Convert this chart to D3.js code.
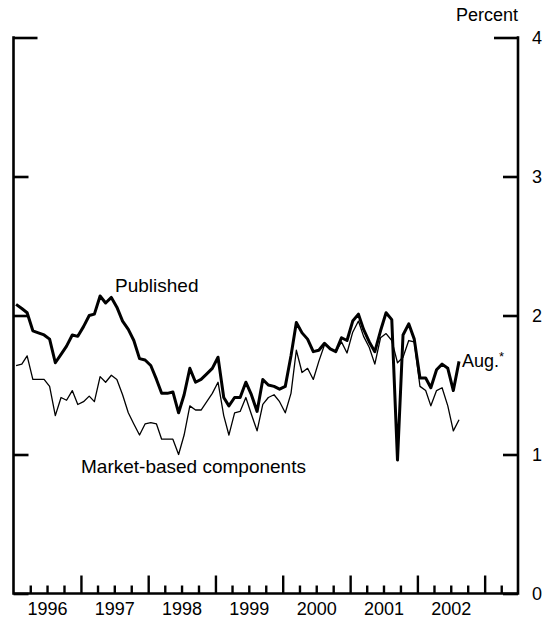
<!DOCTYPE html>
<html><head><meta charset="utf-8">
<script src="https://cdn.jsdelivr.net/npm/d3@7"></script>
<style>body{margin:0;background:#fff}svg{display:block}text{font-family:"Liberation Sans",Arial,Helvetica,sans-serif;fill:#000}</style>
</head><body><svg id="c" width="548" height="621"></svg>
<script>
// ---- data (monthly, starting January 1996) ----
const startYear = 1996;
const published = [
  2.08, 2.05, 2.02, 1.89, 1.875, 1.86, 1.83, 1.66, 1.72, 1.78, 1.86, 1.85,
  1.92, 2.00, 2.01, 2.14, 2.09, 2.13, 2.06, 1.96, 1.90, 1.82, 1.69, 1.68,
  1.64, 1.54, 1.44, 1.44, 1.45, 1.30, 1.43, 1.62, 1.52, 1.54, 1.58, 1.62,
  1.70, 1.41, 1.35, 1.41, 1.41, 1.52, 1.43, 1.31, 1.54, 1.50, 1.49, 1.47,
  1.49, 1.71, 1.95, 1.875, 1.83, 1.74, 1.75, 1.80, 1.76, 1.74, 1.84, 1.82,
  1.96, 2.01, 1.90, 1.81, 1.74, 1.89, 2.02, 1.97, 0.96, 1.86, 1.94, 1.83,
  1.55, 1.55, 1.48, 1.61, 1.65, 1.62, 1.46, 1.67
];
const marketBased = [
  1.64, 1.65, 1.71, 1.54, 1.54, 1.54, 1.49, 1.28, 1.41, 1.39, 1.46, 1.36,
  1.38, 1.42, 1.38, 1.56, 1.52, 1.57, 1.54, 1.43, 1.30, 1.22, 1.14, 1.22,
  1.23, 1.22, 1.11, 1.11, 1.11, 1.00, 1.14, 1.35, 1.32, 1.32, 1.38, 1.44,
  1.52, 1.28, 1.14, 1.30, 1.31, 1.41, 1.29, 1.17, 1.36, 1.41, 1.43, 1.38,
  1.30, 1.44, 1.75, 1.59, 1.62, 1.54, 1.67, 1.79, 1.76, 1.74, 1.81, 1.73,
  1.88, 1.96, 1.85, 1.77, 1.65, 1.84, 1.87, 1.82, 1.66, 1.70, 1.82, 1.81,
  1.49, 1.46, 1.35, 1.46, 1.48, 1.35, 1.17, 1.25
];
const yearLabels = ["1996", "1997", "1998", "1999", "2000", "2001", "2002"];
const yTicks = [0, 1, 2, 3, 4];
const axisTitle = "Percent";
const labelPublished = "Published";
const labelMarket = "Market-based components";
const labelEnd = "Aug.";
const labelEndMark = "*";

// ---- layout ----
const svg = d3.select("#c");
const L = 13.5, R = 518, T = 37.5, B = 593.5;
const x = d3.scaleTime().domain([new Date(1996, 0, 1), new Date(2003, 6, 1)]).range([L, R]);
const y = d3.scaleLinear().domain([0, 4]).range([B, T]);
const monthDate = i => new Date(startYear, i, 15);

// frame
svg.append("path")
  .attr("d", `M${L},${T}V${B}H${R}V${T}`)
  .attr("fill", "none").attr("stroke", "#000").attr("stroke-width", 2.6)
  .attr("stroke-linejoin", "miter").attr("stroke-linecap", "square");

// bottom quarter ticks
const quarters = d3.timeMonth.every(3).range(new Date(1996, 3, 1), new Date(2003, 6, 1));
const gx = svg.append("g").attr("transform", `translate(0,${B})`)
  .call(d3.axisBottom(x).tickValues(quarters).tickSize(-8).tickSizeOuter(0).tickFormat(""));
gx.select(".domain").remove();
gx.selectAll(".tick line").attr("stroke", "#000").attr("stroke-width", 2.4)
  .attr("y2", d => d.getMonth() === 0 ? -18 : -8);

// year labels
const yearMid = yearLabels.map(s => new Date(+s, 6, 1));
const gxl = svg.append("g").attr("transform", `translate(0,${B})`)
  .call(d3.axisBottom(x).tickValues(yearMid).tickSize(0).tickPadding(9)
    .tickFormat((d, i) => yearLabels[i]));
gxl.select(".domain").remove();
gxl.selectAll("text").style("font-size", "18px").attr("fill", "#000");

// right axis
const gr = svg.append("g").attr("transform", `translate(${R},0)`)
  .call(d3.axisRight(y).tickValues(yTicks).tickSize(-15).tickSizeOuter(0).tickPadding(14).tickFormat(d3.format("d")));
gr.select(".domain").remove();
gr.selectAll(".tick line").attr("stroke", "#000").attr("stroke-width", 2.6)
  .attr("x2", d => d === 4 ? -24 : -15);
gr.selectAll("text").style("font-size", "18px").attr("fill", "#000");

// left axis
const gl = svg.append("g").attr("transform", `translate(${L},0)`)
  .call(d3.axisLeft(y).tickValues(yTicks).tickSize(-15).tickSizeOuter(0).tickFormat(""));
gl.select(".domain").remove();
gl.selectAll(".tick line").attr("stroke", "#000").attr("stroke-width", 2.6)
  .attr("x2", d => d === 4 ? 24 : 15);

// axis title
svg.append("text").attr("x", R).attr("y", 21).attr("text-anchor", "end")
  .style("font-size", "18px").text(axisTitle);

// lines
const line = d3.line().x((d, i) => x(monthDate(i))).y(d => y(d));
svg.append("path").datum(marketBased).attr("d", line)
  .attr("fill", "none").attr("stroke", "#000").attr("stroke-width", 1.3).attr("stroke-linejoin", "round");
svg.append("path").datum(published).attr("d", line)
  .attr("fill", "none").attr("stroke", "#000").attr("stroke-width", 3).attr("stroke-linejoin", "round");

// labels
svg.append("text").attr("x", 115).attr("y", 292).style("font-size", "19px").text(labelPublished);
svg.append("text").attr("x", 81).attr("y", 473).style("font-size", "19px").text(labelMarket);
const t = svg.append("text").attr("x", x(monthDate(published.length - 1)) + 3).attr("y", 367).style("font-size", "18px");
t.append("tspan").text(labelEnd);
t.append("tspan").attr("dy", -6).style("font-size", "13px").text(labelEndMark);
</script>
</body></html>
